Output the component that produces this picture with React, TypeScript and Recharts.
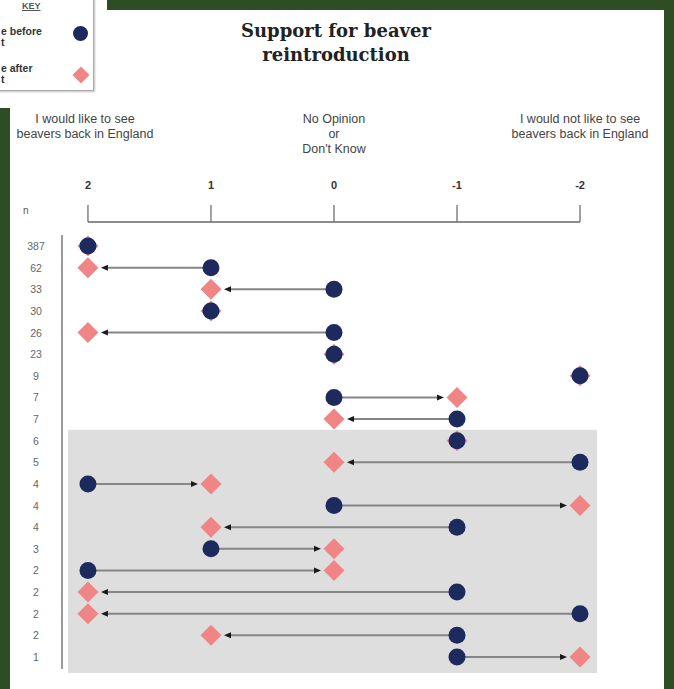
import React from 'react';
import { ScatterChart, Scatter, XAxis, YAxis, ReferenceArea, ReferenceLine } from 'recharts';

// One row per group of respondents: how many (n), and their score before and after
const rowCounts = [387, 62, 33, 30, 26, 23, 9, 7, 7, 6, 5, 4, 4, 4, 3, 2, 2, 2, 2, 1];
const scoreBefore = [2, 1, 0, 1, 0, 0, -2, 0, -1, -1, -2, 2, 0, -1, 1, 2, -1, -2, -1, -1];
const scoreAfter = [2, 2, 1, 1, 2, 0, -2, -1, 0, -1, 0, 1, -2, 1, 0, 0, 2, 2, 1, -2];

const scaleTicks = [2, 1, 0, -1, -2];
const scaleHeaders: Record<number, string[]> = {
  2: ['I would like to see', 'beavers back in England'],
  0: ['No Opinion', 'or', "Don't Know"],
  [-2]: ['I would not like to see', 'beavers back in England'],
};
const firstShadedRow = 9;

const NAVY = '#1d2a5e';
const PINK = '#f08585';
const GREEN = '#2e4d23';
const FONT = '"Liberation Sans", Arial, sans-serif';

const beforePoints = rowCounts.map((n, i) => ({ x: scoreBefore[i], y: i, n }));
const afterPoints = rowCounts.map((n, i) => ({ x: scoreAfter[i], y: i, n }));
const moves = rowCounts.map((_, i) => i).filter(i => scoreBefore[i] !== scoreAfter[i]);

const Dot = (p: any) => <circle cx={p.cx} cy={p.cy} r={8.5} fill={NAVY} />;
const Diamond = (p: any) => {
  const s = 10.5;
  return (
    <path
      d={`M${p.cx},${p.cy - s}L${p.cx + s},${p.cy}L${p.cx},${p.cy + s}L${p.cx - s},${p.cy}Z`}
      fill={PINK}
    />
  );
};

// line from the "before" dot to just short of the "after" diamond, with a small head
const Arrow = (p: any) => {
  const { x1, y1, x2 } = p;
  const dir = x2 > x1 ? 1 : -1;
  const start = x1 + dir * 8;
  const tip = x2 - dir * 13;
  const base = tip - dir * 7;
  return (
    <g>
      <line x1={start} y1={y1} x2={base} y2={y1} stroke="#858585" strokeWidth={2} />
      <path d={`M${tip},${y1}L${base},${y1 - 3}L${base},${y1 + 3}Z`} fill="#1a1a1a" />
    </g>
  );
};

const ScaleTick = (p: any) => {
  const { x, y, payload } = p;
  const v = payload.value;
  const lines = scaleHeaders[v] || [];
  return (
    <g>
      <line x1={x} x2={x} y1={y - 13} y2={y - 30} stroke="#707070" strokeWidth={1.3} />
      <text x={x} y={y - 50} textAnchor="middle" dominantBaseline="central" fontFamily={FONT}
        fontSize={11} fontWeight="bold" fill="#333">
        {v}
      </text>
      {lines.map((l, k) => (
        <text key={k} x={x - (v === 2 ? 3 : 0)} y={y - 116 + k * 15} textAnchor="middle" dominantBaseline="central"
          fontFamily={FONT} fontSize={12.5} fill="#444">
          {l}
        </text>
      ))}
    </g>
  );
};

const CountTick = (p: any) => {
  const { x, y, payload } = p;
  return (
    <text x={x - 26} y={y} textAnchor="middle" dominantBaseline="central" fontFamily={FONT}
      fontSize={10.5} fill="#666">
      {rowCounts[payload.value]}
    </text>
  );
};

const Key = () => (
  <div style={{ position: 'absolute', left: -4, top: -4, width: 96, height: 93, border: '1.5px solid #a9a9a9',
    boxShadow: '1px 1px 2px rgba(0,0,0,0.25)', background: '#fff', fontFamily: FONT, color: '#333' }}>
    <div style={{ position: 'absolute', left: 25, top: 4, fontSize: 9, lineHeight: '10px', fontWeight: 'bold', textDecoration: 'underline', color: '#555' }}>KEY</div>
    <div style={{ position: 'absolute', left: 4, top: 29, fontSize: 10.5, fontWeight: 'bold', lineHeight: '11px' }}>e before<br />t</div>
    <div style={{ position: 'absolute', left: 76, top: 29, width: 15, height: 15, borderRadius: '50%', background: NAVY }} />
    <div style={{ position: 'absolute', left: 4, top: 66, fontSize: 10.5, fontWeight: 'bold', lineHeight: '11px' }}>e after<br />t</div>
    <div style={{ position: 'absolute', left: 78, top: 72, width: 12, height: 12, background: PINK, transform: 'rotate(45deg)' }} />
  </div>
);

export default function App() {
  return (
    <div style={{ position: 'absolute', left: 0, top: 0, width: 674, height: 689, background: GREEN, overflow: 'hidden' }}>
      <div style={{ position: 'absolute', left: 10, top: 10, width: 654, height: 679, background: '#fff' }} />
      <div style={{ position: 'absolute', left: 0, top: 0, width: 107, height: 108, background: '#fff' }} />
      <Key />
      <div style={{ position: 'absolute', left: 226, top: 19, width: 220, textAlign: 'center', fontFamily: '"DejaVu Serif", serif',
        fontWeight: 'bold', fontSize: 18, lineHeight: '24px', color: '#222' }}>
        Support for beaver<br />reintroduction
      </div>
      <div style={{ position: 'absolute', left: 23, top: 205, fontFamily: FONT, fontSize: 10, color: '#555' }}>n</div>
      <div style={{ position: 'absolute', left: 0, top: 0 }}>
        <ScatterChart width={674} height={689} margin={{ top: 205, right: 77, bottom: 20, left: 0 }}>
          <XAxis type="number" dataKey="x" orientation="top" height={30} domain={[-2.138, 2.211]} reversed
            ticks={scaleTicks} interval={0} axisLine={false} tickLine={false} tickSize={0} tickMargin={0}
            tick={<ScaleTick />} allowDataOverflow />
          <YAxis type="number" dataKey="y" width={62} domain={[-0.51, 19.56]} reversed
            ticks={rowCounts.map((_, i) => i)} interval={0} tickLine={false} tickSize={0} tickMargin={0}
            axisLine={{ stroke: '#7a7a7a', strokeWidth: 1.5 }} tick={<CountTick />} allowDataOverflow />
          <ReferenceArea x1={2.162} x2={-2.138} y1={firstShadedRow - 0.5} y2={19.74} fill="#dedede" fillOpacity={1}
            stroke="none" ifOverflow="visible" />
          <ReferenceLine segment={[{ x: 2, y: -1.11 }, { x: -2, y: -1.11 }]} stroke="#666" strokeWidth={1.5}
            ifOverflow="visible" />
          {moves.map(i => (
            <ReferenceLine key={i} segment={[{ x: scoreBefore[i], y: i }, { x: scoreAfter[i], y: i }]}
              shape={Arrow} ifOverflow="visible" />
          ))}
          <Scatter data={afterPoints} shape={Diamond} isAnimationActive={false} />
          <Scatter data={beforePoints} shape={Dot} isAnimationActive={false} />
        </ScatterChart>
      </div>
    </div>
  );
}
